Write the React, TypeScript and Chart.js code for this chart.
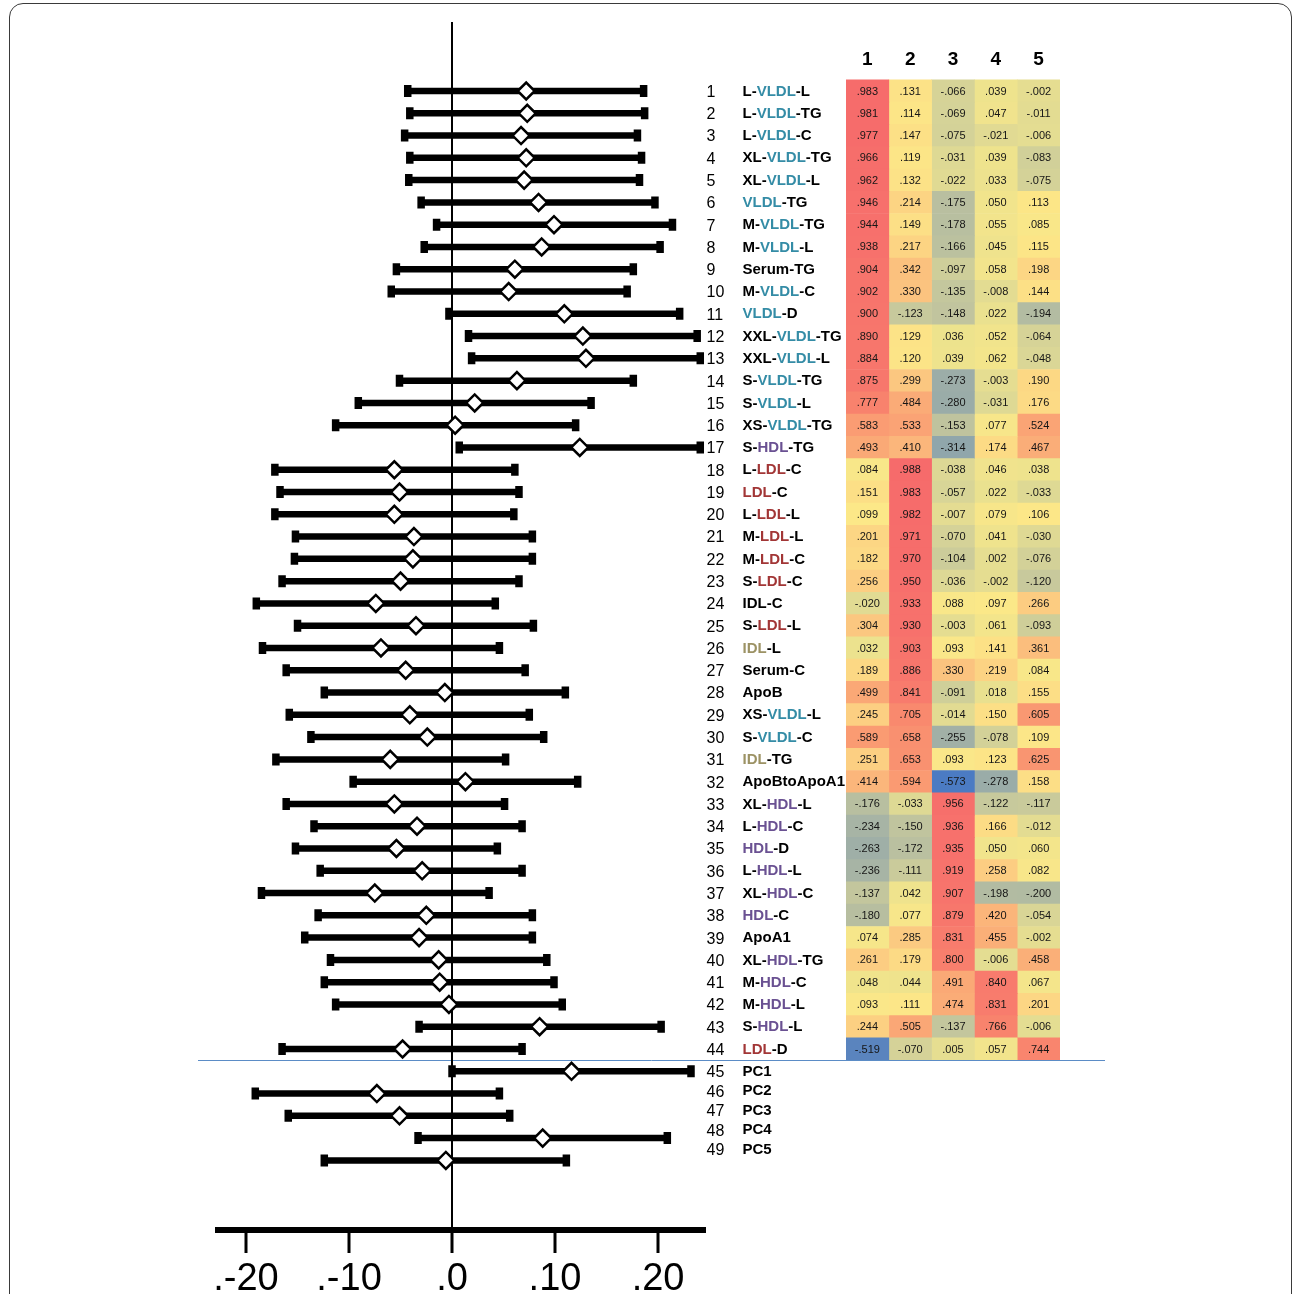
import { useEffect, useRef } from 'react';
import { Chart, registerables } from 'chart.js';

Chart.register(...registerables);

// ---------- data ----------
const ROW_NAMES = [
  'L-{VLDL}-L', 'L-{VLDL}-TG', 'L-{VLDL}-C', 'XL-{VLDL}-TG', 'XL-{VLDL}-L',
  '{VLDL}-TG', 'M-{VLDL}-TG', 'M-{VLDL}-L', 'Serum-TG', 'M-{VLDL}-C',
  '{VLDL}-D', 'XXL-{VLDL}-TG', 'XXL-{VLDL}-L', 'S-{VLDL}-TG', 'S-{VLDL}-L',
  'XS-{VLDL}-TG', 'S-{HDL}-TG', 'L-{LDL}-C', '{LDL}-C', 'L-{LDL}-L',
  'M-{LDL}-L', 'M-{LDL}-C', 'S-{LDL}-C', 'IDL-C', 'S-{LDL}-L',
  '{IDL}-L', 'Serum-C', 'ApoB', 'XS-{VLDL}-L', 'S-{VLDL}-C',
  '{IDL}-TG', 'ApoBtoApoA1', 'XL-{HDL}-L', 'L-{HDL}-C', '{HDL}-D',
  'L-{HDL}-L', 'XL-{HDL}-C', '{HDL}-C', 'ApoA1', 'XL-{HDL}-TG',
  'M-{HDL}-C', 'M-{HDL}-L', 'S-{HDL}-L', '{LDL}-D',
  'PC1', 'PC2', 'PC3', 'PC4', 'PC5',
];

const CI_LOW = [
  -0.043, -0.041, -0.046, -0.041, -0.042, -0.030, -0.015, -0.027, -0.054, -0.059,
  -0.003, 0.016, 0.019, -0.051, -0.091, -0.113, 0.007, -0.172, -0.167, -0.172,
  -0.152, -0.153, -0.165, -0.190, -0.150, -0.184, -0.161, -0.124, -0.158, -0.137,
  -0.171, -0.096, -0.161, -0.134, -0.152, -0.128, -0.185, -0.130, -0.143, -0.118,
  -0.124, -0.113, -0.032, -0.165, 0.000, -0.191, -0.159, -0.033, -0.124,
];
const ESTIMATE = [
  0.072, 0.073, 0.067, 0.072, 0.070, 0.084, 0.099, 0.087, 0.061, 0.055,
  0.109, 0.127, 0.130, 0.063, 0.022, 0.003, 0.124, -0.056, -0.051, -0.056,
  -0.037, -0.038, -0.050, -0.074, -0.035, -0.069, -0.045, -0.007, -0.041, -0.024,
  -0.060, 0.013, -0.056, -0.034, -0.054, -0.029, -0.075, -0.025, -0.032, -0.013,
  -0.012, -0.003, 0.085, -0.048, 0.116, -0.073, -0.051, 0.088, -0.006,
];
const CI_HIGH = [
  0.186, 0.187, 0.180, 0.184, 0.182, 0.197, 0.214, 0.202, 0.176, 0.170,
  0.221, 0.238, 0.241, 0.176, 0.135, 0.120, 0.241, 0.061, 0.065, 0.060,
  0.078, 0.078, 0.065, 0.042, 0.079, 0.046, 0.071, 0.110, 0.075, 0.089,
  0.052, 0.122, 0.051, 0.068, 0.044, 0.068, 0.036, 0.078, 0.078, 0.092,
  0.099, 0.107, 0.203, 0.068, 0.232, 0.046, 0.056, 0.209, 0.111,
];

const COMPONENT_HEADERS = ['1', '2', '3', '4', '5'];
const COMP1 = [
  0.983, 0.981, 0.977, 0.966, 0.962, 0.946, 0.944, 0.938, 0.904, 0.902,
  0.900, 0.890, 0.884, 0.875, 0.777, 0.583, 0.493, 0.084, 0.151, 0.099,
  0.201, 0.182, 0.256, -0.020, 0.304, 0.032, 0.189, 0.499, 0.245, 0.589,
  0.251, 0.414, -0.176, -0.234, -0.263, -0.236, -0.137, -0.180, 0.074, 0.261,
  0.048, 0.093, 0.244, -0.519,
];
const COMP2 = [
  0.131, 0.114, 0.147, 0.119, 0.132, 0.214, 0.149, 0.217, 0.342, 0.330,
  -0.123, 0.129, 0.120, 0.299, 0.484, 0.533, 0.410, 0.988, 0.983, 0.982,
  0.971, 0.970, 0.950, 0.933, 0.930, 0.903, 0.886, 0.841, 0.705, 0.658,
  0.653, 0.594, -0.033, -0.150, -0.172, -0.111, 0.042, 0.077, 0.285, 0.179,
  0.044, 0.111, 0.505, -0.070,
];
const COMP3 = [
  -0.066, -0.069, -0.075, -0.031, -0.022, -0.175, -0.178, -0.166, -0.097, -0.135,
  -0.148, 0.036, 0.039, -0.273, -0.280, -0.153, -0.314, -0.038, -0.057, -0.007,
  -0.070, -0.104, -0.036, 0.088, -0.003, 0.093, 0.330, -0.091, -0.014, -0.255,
  0.093, -0.573, 0.956, 0.936, 0.935, 0.919, 0.907, 0.879, 0.831, 0.800,
  0.491, 0.474, -0.137, 0.005,
];
const COMP4 = [
  0.039, 0.047, -0.021, 0.039, 0.033, 0.050, 0.055, 0.045, 0.058, -0.008,
  0.022, 0.052, 0.062, -0.003, -0.031, 0.077, 0.174, 0.046, 0.022, 0.079,
  0.041, 0.002, -0.002, 0.097, 0.061, 0.141, 0.219, 0.018, 0.150, -0.078,
  0.123, -0.278, -0.122, 0.166, 0.050, 0.258, -0.198, 0.420, 0.455, -0.006,
  0.840, 0.831, 0.766, 0.057,
];
const COMP5 = [
  -0.002, -0.011, -0.006, -0.083, -0.075, 0.113, 0.085, 0.115, 0.198, 0.144,
  -0.194, -0.064, -0.048, 0.190, 0.176, 0.524, 0.467, 0.038, -0.033, 0.106,
  -0.030, -0.076, -0.120, 0.266, -0.093, 0.361, 0.084, 0.155, 0.605, 0.109,
  0.625, 0.158, -0.117, -0.012, 0.060, 0.082, -0.200, -0.054, -0.002, 0.458,
  0.067, 0.201, -0.006, 0.744,
];
const COMPONENTS = [COMP1, COMP2, COMP3, COMP4, COMP5];

const X_TICKS = [-0.2, -0.1, 0, 0.1, 0.2];
const X_TICK_LABELS = ['.-20', '.-10', '.0', '.10', '.20'];

// ---------- layout / style ----------
const W = 1292;
const H = 1294;
const FONT = '"Liberation Sans", Arial, Helvetica, sans-serif';
const X_MIN = -0.2272;
const X_MAX = 0.2451;
const Y_MIN = -2.0971;
const Y_MAX = 52.124;
const PAD_TOP = 22;
const AXIS_H = 64;
const FOREST_LEFT = 218;
const FOREST_RIGHT = 704.5;
const HEAT_LEFT = 846;
const HEAT_RIGHT = 1060;
const HEAT_ROWS = COMP1.length;
const PC_LABEL_STEP = 0.875;
const SEP_LEFT = 198;
const SEP_RIGHT = 1105;
const SEP_COLOR = '#5b8cc6';
const CLASS_COLORS: Record<string, string> = {
  VLDL: '#348ca6',
  LDL: '#a23636',
  HDL: '#6a5192',
  IDL: '#9c9264',
};
const HEAT_STOPS: number[][] = [
  [-0.6, 68, 118, 198],
  [-0.3, 148, 168, 170],
  [-0.15, 192, 196, 158],
  [-0.05, 218, 214, 150],
  [0.03, 236, 226, 142],
  [0.1, 252, 232, 136],
  [0.2, 252, 214, 132],
  [0.35, 251, 192, 126],
  [0.5, 250, 168, 118],
  [0.7, 249, 138, 110],
  [1.0, 246, 106, 107],
];

function heatColor(v: number): string {
  const s = HEAT_STOPS;
  if (v <= s[0][0]) return `rgb(${s[0][1]},${s[0][2]},${s[0][3]})`;
  for (let i = 1; i < s.length; i++) {
    if (v <= s[i][0]) {
      const t = (v - s[i - 1][0]) / (s[i][0] - s[i - 1][0]);
      const c = [1, 2, 3].map((k) => Math.round(s[i - 1][k] + t * (s[i][k] - s[i - 1][k])));
      return `rgb(${c[0]},${c[1]},${c[2]})`;
    }
  }
  const l = s[s.length - 1];
  return `rgb(${l[1]},${l[2]},${l[3]})`;
}

function fmt(v: number): string {
  return (v < 0 ? '-' : '') + '.' + String(Math.round(Math.abs(v) * 1000)).padStart(3, '0');
}

function segments(name: string) {
  return name
    .split(/(\{[^}]+\})/)
    .filter((p) => p.length > 0)
    .map((p) => {
      if (p.startsWith('{')) {
        const t = p.slice(1, -1);
        return { text: t, color: CLASS_COLORS[t] || '#000' };
      }
      return { text: p, color: '#000' };
    });
}

const rowLabelPlugin = {
  id: 'rowLabels',
  afterDraw(chart: any) {
    const { ctx, chartArea, scales } = chart;
    const ys = scales.y;
    ctx.save();
    ctx.textBaseline = 'middle';
    ctx.textAlign = 'left';
    ROW_NAMES.forEach((name, i) => {
      const row = i + 1;
      const labelRow = row <= HEAT_ROWS ? row : HEAT_ROWS + 1 + (row - HEAT_ROWS - 1) * PC_LABEL_STEP;
      const py = ys.getPixelForValue(labelRow);
      ctx.font = `16px ${FONT}`;
      ctx.fillStyle = '#000';
      ctx.fillText(String(row), chartArea.right + 2, py + 1.5);
      ctx.font = `bold 15px ${FONT}`;
      let x = chartArea.right + 38;
      segments(name).forEach((seg) => {
        ctx.fillStyle = seg.color;
        ctx.fillText(seg.text, x, py + 0.5);
        x += ctx.measureText(seg.text).width;
      });
    });
    ctx.restore();
  },
};

const heatTextPlugin = {
  id: 'heatText',
  afterDatasetsDraw(chart: any) {
    const { ctx, scales } = chart;
    ctx.save();
    ctx.textAlign = 'center';
    ctx.textBaseline = 'middle';
    ctx.font = `11px ${FONT}`;
    ctx.fillStyle = '#161616';
    chart.data.datasets.forEach((_ds: any, di: number) => {
      const meta = chart.getDatasetMeta(di);
      meta.data.forEach((el: any, i: number) => {
        const p = el.getCenterPoint();
        ctx.fillText(fmt(COMPONENTS[di][i]), p.x, p.y + 0.5);
      });
    });
    ctx.font = `bold 19px ${FONT}`;
    ctx.fillStyle = '#000';
    const top = scales.y.getPixelForValue(0.5);
    COMPONENT_HEADERS.forEach((h, c) => {
      ctx.fillText(h, scales.x.getPixelForValue(c + 1), top - 20);
    });
    const sy = Math.round(scales.y.getPixelForValue(HEAT_ROWS + 0.5)) + 0.5;
    ctx.strokeStyle = SEP_COLOR;
    ctx.lineWidth = 1;
    ctx.beginPath();
    ctx.moveTo(SEP_LEFT, sy);
    ctx.lineTo(SEP_RIGHT, sy);
    ctx.stroke();
    ctx.restore();
  },
};

function forestConfig(): any {
  const diamonds = {
    data: ESTIMATE.map((v, i) => ({ x: v, y: i + 1 })),
    showLine: false,
    pointStyle: 'rectRot',
    pointRadius: 8.5,
    pointBackgroundColor: '#fff',
    pointBorderColor: '#000',
    pointBorderWidth: 2.5,
    order: 0,
  };
  const bars = CI_LOW.map((lo, i) => ({
    data: [
      { x: lo, y: i + 1 },
      { x: CI_HIGH[i], y: i + 1 },
    ],
    showLine: true,
    borderColor: '#000',
    borderWidth: 6.5,
    pointStyle: 'line',
    pointRotation: 90,
    pointRadius: 6,
    pointBorderWidth: 7.5,
    pointBorderColor: '#000',
    pointBackgroundColor: '#000',
    order: 1,
  }));
  return {
    type: 'scatter',
    data: { datasets: [diamonds, ...bars] },
    options: {
      animation: false,
      responsive: false,
      maintainAspectRatio: false,
      events: [],
      layout: { padding: { left: FOREST_LEFT, right: W - FOREST_RIGHT, top: PAD_TOP, bottom: 0 } },
      plugins: { legend: { display: false }, tooltip: { enabled: false } },
      scales: {
        x: {
          type: 'linear',
          position: 'bottom',
          min: X_MIN,
          max: X_MAX,
          afterFit: (s: any) => {
            s.height = AXIS_H;
          },
          afterBuildTicks: (s: any) => {
            s.ticks = X_TICKS.map((v) => ({ value: v }));
          },
          ticks: {
            callback: (_v: any, idx: number) => X_TICK_LABELS[idx],
            font: { family: FONT, size: 38 },
            color: '#000',
            padding: 4,
            maxRotation: 0,
            autoSkip: false,
          },
          grid: {
            color: (c: any) => (c.tick && c.tick.value === 0 ? '#000' : 'rgba(0,0,0,0)'),
            lineWidth: 2,
            tickColor: '#000',
            tickWidth: 3,
            tickLength: 23,
            drawOnChartArea: true,
          },
          border: { display: true, width: 6, color: '#000' },
        },
        y: { type: 'linear', display: false, reverse: true, min: Y_MIN, max: Y_MAX },
      },
    },
    plugins: [rowLabelPlugin],
  };
}

function heatConfig(): any {
  const datasets = COMPONENTS.map((vals, c) => ({
    data: vals.map((_v, i) => ({ x: [c + 0.5, c + 1.5], y: i + 1 })),
    backgroundColor: vals.map(heatColor),
    borderWidth: 0,
    barPercentage: 1,
    categoryPercentage: 1,
    grouped: false,
    stack: 'heat',
  }));
  return {
    type: 'bar',
    data: { datasets },
    options: {
      indexAxis: 'y',
      animation: false,
      responsive: false,
      maintainAspectRatio: false,
      events: [],
      layout: { padding: { left: HEAT_LEFT, right: W - HEAT_RIGHT, top: PAD_TOP, bottom: AXIS_H } },
      plugins: { legend: { display: false }, tooltip: { enabled: false } },
      scales: {
        x: { type: 'linear', display: false, min: 0.5, max: COMPONENTS.length + 0.5, stacked: false },
        y: { type: 'linear', display: false, reverse: true, min: Y_MIN, max: Y_MAX, offset: false },
      },
    },
    plugins: [heatTextPlugin],
  };
}

export default function App() {
  const forestRef = useRef<HTMLCanvasElement>(null);
  const heatRef = useRef<HTMLCanvasElement>(null);
  useEffect(() => {
    Chart.defaults.font.family = FONT;
    const a = new Chart(forestRef.current as HTMLCanvasElement, forestConfig());
    const b = new Chart(heatRef.current as HTMLCanvasElement, heatConfig());
    return () => {
      a.destroy();
      b.destroy();
    };
  }, []);
  const canvasStyle: any = { position: 'absolute', left: 0, top: 0, width: W, height: H };
  return (
    <div style={{ position: 'fixed', left: 0, top: 0, width: W, height: H, overflow: 'hidden', background: '#fff' }}>
      <div
        style={{
          position: 'absolute',
          left: 9,
          top: 3,
          width: 1283,
          height: 1400,
          border: '1.5px solid #3a3a3a',
          borderRadius: 14,
          boxSizing: 'border-box',
        }}
      />
      <canvas ref={heatRef} width={W} height={H} style={canvasStyle} />
      <canvas ref={forestRef} width={W} height={H} style={canvasStyle} />
    </div>
  );
}
